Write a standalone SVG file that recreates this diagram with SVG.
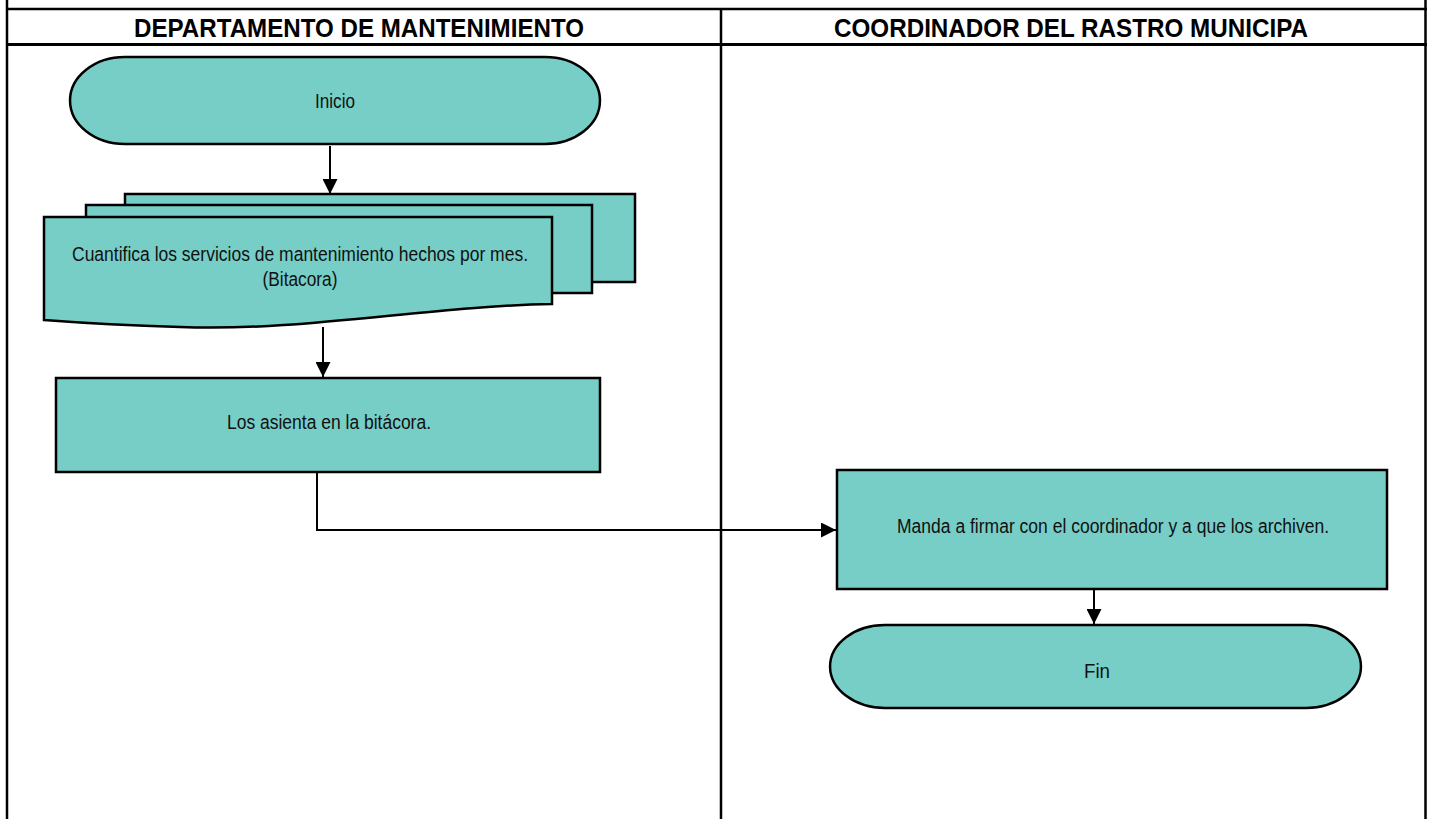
<svg xmlns="http://www.w3.org/2000/svg" width="1430" height="819" viewBox="0 0 1430 819">
  <style>
    .shape { fill: #76cec7; stroke: #000; stroke-width: 2.5; }
    .lbl { font-family: "Liberation Sans", Arial, sans-serif; font-size: 20px; fill: #111; text-anchor: middle; }
    .hdr { font-family: "Liberation Sans", Arial, sans-serif; font-size: 26px; font-weight: bold; fill: #000; text-anchor: middle; }
    .frame { stroke: #000; fill: none; }
    .conn { stroke: #000; stroke-width: 2; fill: none; }
  </style>
  <defs>
    <marker id="arrow" viewBox="0 0 10 10" refX="10" refY="5" markerUnits="userSpaceOnUse" markerWidth="15" markerHeight="15" orient="auto">
      <path d="M0,0 L10,5 L0,10 Z" fill="#000"/>
    </marker>
  </defs>
  <rect width="1430" height="819" fill="#fff"/>

  <g id="frame">
    <line class="frame" x1="6" y1="9" x2="1427" y2="9" stroke-width="2.5"/>
    <line class="frame" x1="6" y1="44.5" x2="1427" y2="44.5" stroke-width="3"/>
    <line class="frame" x1="7" y1="0" x2="7" y2="819" stroke-width="2.5"/>
    <line class="frame" x1="1425.5" y1="0" x2="1425.5" y2="819" stroke-width="2.5"/>
    <line class="frame" x1="721" y1="9" x2="721" y2="819" stroke-width="2.5"/>
  </g>

  <g id="lane-headers">
    <text class="hdr" x="359" y="37" textLength="450" lengthAdjust="spacingAndGlyphs">DEPARTAMENTO DE MANTENIMIENTO</text>
    <text class="hdr" x="1071" y="37" textLength="474" lengthAdjust="spacingAndGlyphs">COORDINADOR DEL RASTRO MUNICIPA</text>
  </g>

  <g id="connectors">
    <line class="conn" x1="330" y1="146" x2="330" y2="194" marker-end="url(#arrow)"/>
    <line class="conn" x1="323" y1="327" x2="323" y2="377" marker-end="url(#arrow)"/>
    <polyline class="conn" points="317,472 317,530 836,530" marker-end="url(#arrow)"/>
    <line class="conn" x1="1094" y1="589" x2="1094" y2="624" marker-end="url(#arrow)"/>
  </g>

  <g id="inicio">
    <path class="shape" d="M125,57 H545 A55,43.5 0 0 1 545,144 H125 A55,43.5 0 0 1 125,57 Z"/>
    <text class="lbl" x="335" y="108" textLength="40" lengthAdjust="spacingAndGlyphs">Inicio</text>
  </g>

  <g id="cuantifica">
    <rect class="shape" x="125" y="194" width="510" height="88"/>
    <rect class="shape" x="86" y="205" width="506" height="88"/>
    <path class="shape" d="M44,217 H552 V304 C430,306 300,332 180,327 C110,325 70,322 44,320 Z"/>
    <text class="lbl" x="300" y="261" textLength="456" lengthAdjust="spacingAndGlyphs">Cuantifica los servicios de mantenimiento hechos por mes.</text>
    <text class="lbl" x="300" y="286" textLength="75" lengthAdjust="spacingAndGlyphs">(Bitacora)</text>
  </g>

  <g id="asienta">
    <rect class="shape" x="56" y="378" width="544" height="94"/>
    <text class="lbl" x="329" y="429" textLength="204" lengthAdjust="spacingAndGlyphs">Los asienta en la bitácora.</text>
  </g>

  <g id="manda">
    <rect class="shape" x="837" y="470" width="550" height="119"/>
    <text class="lbl" x="1113" y="533" textLength="432" lengthAdjust="spacingAndGlyphs">Manda a firmar con el coordinador y a que los archiven.</text>
  </g>

  <g id="fin">
    <path class="shape" d="M885,625 H1306 A55,41.5 0 0 1 1306,708 H885 A55,41.5 0 0 1 885,625 Z"/>
    <text class="lbl" x="1097" y="678" textLength="26" lengthAdjust="spacingAndGlyphs">Fin</text>
  </g>
</svg>
